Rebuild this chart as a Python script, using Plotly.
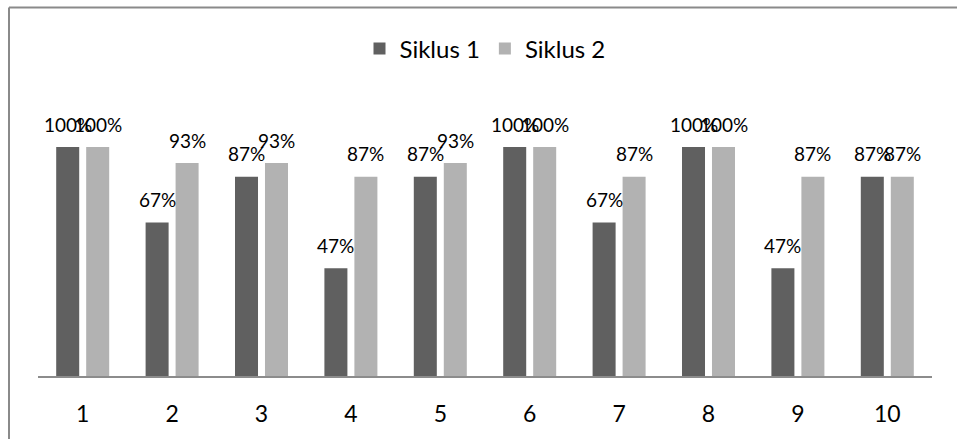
import plotly.graph_objects as go

categories = ["1", "2", "3", "4", "5", "6", "7", "8", "9", "10"]
siklus1 = [100, 67, 87, 47, 87, 100, 67, 100, 47, 87]
siklus2 = [100, 93, 93, 87, 93, 100, 87, 100, 87, 87]
series_names = ["Siklus 1", "Siklus 2"]
colors = ["#606060", "#b2b2b2"]

W, H = 957, 439
L, R, T, B = 38, W - 932, 90, H - 376
plot_h = H - T - B
ymax = plot_h / 229 * 100

fig = go.Figure()
for name, vals, col in zip(series_names, [siklus1, siklus2], colors):
    fig.add_trace(go.Bar(x=categories, y=vals, name=name, marker=dict(color=col, line=dict(width=0))))

ann = []
for vals, shift in [(siklus1, -15), (siklus2, 15)]:
    for i, v in enumerate(vals):
        ann.append(dict(x=i, y=v, text=f"{v}%", showarrow=False, xshift=shift, yshift=23,
                        yanchor="middle", font=dict(family="Lato", size=19, color="#000")))

pw = W - L - R
shapes = [
    dict(type="line", xref="paper", yref="paper", x0=(9 - L) / pw, x1=(9 - L) / pw,
         y0=(H - B - 7.5) / plot_h, y1=-(B + 5) / plot_h, line=dict(color="#8a8a8a", width=2)),
    dict(type="line", xref="paper", yref="paper", x0=(9 - L) / pw, x1=(W + 5 - L) / pw,
         y0=(H - B - 7.5) / plot_h, y1=(H - B - 7.5) / plot_h, line=dict(color="#8a8a8a", width=2)),
]

fig.update_layout(
    width=W, height=H, margin=dict(l=L, r=R, t=T, b=B),
    paper_bgcolor="white", plot_bgcolor="white",
    barmode="group", bargap=0.329, bargroupgap=0.233,
    font=dict(family="Lato", color="#000"),
    showlegend=True,
    legend=dict(orientation="h", x=0.5, xanchor="center", y=1 + 41 / plot_h, yanchor="middle",
                font=dict(family="Lato", size=24), itemsizing="constant"),
    xaxis=dict(type="category", range=[-0.5, 9.5], showline=True, linecolor="#8c8c8c", linewidth=1.5,
               ticks="", showgrid=False, tickfont=dict(family="Lato", size=23), ticklabelstandoff=17),
    yaxis=dict(range=[0, ymax], visible=False, showgrid=False),
    annotations=ann, shapes=shapes,
)
fig.write_html("out.html")
